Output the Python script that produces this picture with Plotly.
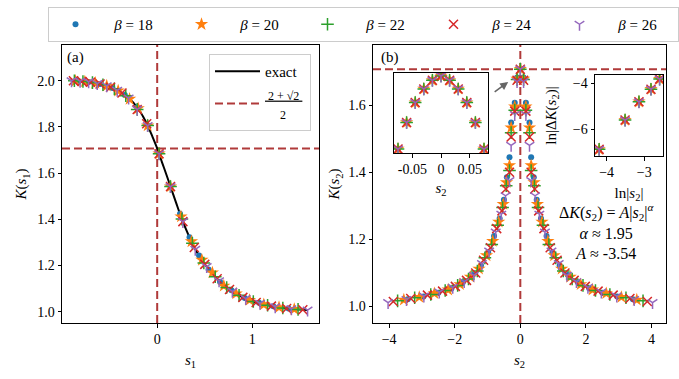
import plotly.graph_objects as go

# ---- panel (a): K(s1) ----
exact_s1 = [-0.90, -0.80, -0.70, -0.60, -0.50, -0.40, -0.30, -0.20, -0.15, -0.10, -0.05, 0.00, 0.05, 0.10,
            0.15, 0.20, 0.25, 0.30, 0.35, 0.40, 0.45, 0.50, 0.60, 0.70, 0.80, 0.90, 1.00, 1.10, 1.20, 1.30,
            1.40, 1.50, 1.58]
exact_K = [2.000, 1.998, 1.994, 1.986, 1.974, 1.955, 1.925, 1.880, 1.846, 1.806, 1.758, 1.707, 1.648, 1.590,
           1.530, 1.470, 1.412, 1.360, 1.313, 1.270, 1.236, 1.205, 1.155, 1.115, 1.085, 1.062, 1.045, 1.033,
           1.024, 1.017, 1.012, 1.009, 1.007]

s1_18 = [-0.84, -0.72, -0.60, -0.47, -0.34, -0.21, -0.10, 0.02, 0.14, 0.24, 0.34, 0.44, 0.54, 0.66, 0.78,
         0.92, 1.07, 1.22, 1.38]
K1_18 = [1.999, 1.995, 1.986, 1.969, 1.938, 1.885, 1.806, 1.684, 1.542, 1.424, 1.322, 1.243, 1.183, 1.130,
         1.093, 1.059, 1.039, 1.024, 1.014]
s1_20 = [-0.86, -0.76, -0.65, -0.53, -0.41, -0.29, -0.20, -0.10, 0.02, 0.14, 0.25, 0.36, 0.47, 0.58, 0.70,
         0.83, 0.97, 1.12, 1.28, 1.44]
K1_20 = [1.999, 1.996, 1.990, 1.978, 1.957, 1.921, 1.880, 1.806, 1.684, 1.542, 1.412, 1.304, 1.224, 1.169,
         1.112, 1.078, 1.050, 1.031, 1.019, 1.011]
s1_22 = [-0.87, -0.78, -0.68, -0.57, -0.45, -0.33, -0.21, -0.10, 0.02, 0.14, 0.26, 0.37, 0.49, 0.61, 0.73,
         0.86, 1.01, 1.16, 1.32, 1.48]
K1_22 = [2.000, 1.997, 1.992, 1.983, 1.965, 1.935, 1.876, 1.806, 1.684, 1.542, 1.401, 1.296, 1.211, 1.151,
         1.105, 1.071, 1.044, 1.028, 1.016, 1.010]
s1_24 = [-0.88, -0.79, -0.70, -0.60, -0.49, -0.37, -0.21, -0.11, 0.02, 0.14, 0.27, 0.39, 0.50, 0.63, 0.76,
         0.90, 1.04, 1.20, 1.36, 1.53]
K1_24 = [2.000, 1.997, 1.994, 1.986, 1.972, 1.947, 1.876, 1.814, 1.684, 1.542, 1.390, 1.278, 1.205, 1.143,
         1.096, 1.062, 1.040, 1.024, 1.014, 1.008]
s1_26 = [-0.90, -0.81, -0.72, -0.63, -0.53, -0.42, -0.30, -0.21, -0.10, 0.02, 0.14, 0.27, 0.40, 0.52, 0.65,
         0.79, 0.93, 1.08, 1.24, 1.41, 1.58]
K1_26 = [2.000, 1.998, 1.995, 1.988, 1.978, 1.959, 1.925, 1.876, 1.806, 1.684, 1.542, 1.390, 1.270, 1.195,
         1.134, 1.088, 1.057, 1.036, 1.021, 1.012, 1.007]

# ---- panel (b): K(s2) ----
s2_18 = [-3.43, -2.95, -2.50, -2.10, -1.75, -1.45, -1.20, -0.98, -0.80, -0.63, -0.50, -0.41, -0.33, -0.28, -0.17,
         -0.10, 0.00, 0.10, 0.17, 0.28, 0.33, 0.41, 0.50, 0.63, 0.80, 0.98, 1.20, 1.45, 1.75, 2.10, 2.50, 2.95, 3.43]
K2_18 = [1.022, 1.030, 1.041, 1.054, 1.072, 1.094, 1.122, 1.162, 1.210, 1.262, 1.318, 1.385, 1.445, 1.548, 1.607,
         1.682, 1.707, 1.682, 1.607, 1.548, 1.445, 1.385, 1.318, 1.262, 1.210, 1.162, 1.122, 1.094, 1.072, 1.054,
         1.041, 1.030, 1.022]
s2_20 = [-3.55, -3.08, -2.62, -2.20, -1.84, -1.52, -1.26, -1.03, -0.84, -0.66, -0.52, -0.42, -0.33, -0.28, -0.17,
         -0.10, 0.00, 0.10, 0.17, 0.28, 0.33, 0.42, 0.52, 0.66, 0.84, 1.03, 1.26, 1.52, 1.84, 2.20, 2.62, 3.08, 3.55]
K2_20 = [1.020, 1.028, 1.039, 1.050, 1.066, 1.088, 1.112, 1.152, 1.195, 1.252, 1.305, 1.370, 1.420, 1.533, 1.595,
         1.678, 1.707, 1.678, 1.595, 1.533, 1.420, 1.370, 1.305, 1.252, 1.195, 1.152, 1.112, 1.088, 1.066, 1.050,
         1.039, 1.028, 1.020]
s2_22 = [-3.74, -3.22, -2.73, -2.29, -1.91, -1.58, -1.31, -1.08, -0.87, -0.69, -0.54, -0.43, -0.33, -0.28, -0.17,
         -0.10, 0.00, 0.10, 0.17, 0.28, 0.33, 0.43, 0.54, 0.69, 0.87, 1.08, 1.31, 1.58, 1.91, 2.29, 2.73, 3.22, 3.74]
K2_22 = [1.017, 1.026, 1.036, 1.048, 1.063, 1.082, 1.106, 1.145, 1.185, 1.242, 1.295, 1.360, 1.405, 1.518, 1.585,
         1.676, 1.707, 1.676, 1.585, 1.518, 1.405, 1.360, 1.295, 1.242, 1.185, 1.145, 1.106, 1.082, 1.063, 1.048,
         1.036, 1.026, 1.017]
s2_24 = [-3.87, -3.34, -2.83, -2.37, -1.98, -1.64, -1.36, -1.12, -0.91, -0.72, -0.56, -0.44, -0.33, -0.28, -0.17,
         -0.10, 0.00, 0.10, 0.17, 0.28, 0.33, 0.44, 0.56, 0.72, 0.91, 1.12, 1.36, 1.64, 1.98, 2.37, 2.83, 3.34, 3.87]
K2_24 = [1.015, 1.024, 1.034, 1.046, 1.060, 1.078, 1.100, 1.138, 1.175, 1.232, 1.285, 1.350, 1.400, 1.505, 1.582,
         1.674, 1.707, 1.674, 1.582, 1.505, 1.400, 1.350, 1.285, 1.232, 1.175, 1.138, 1.100, 1.078, 1.060, 1.046,
         1.034, 1.024, 1.015]
s2_26 = [-4.03, -3.47, -2.94, -2.47, -2.06, -1.71, -1.42, -1.17, -0.95, -0.75, -0.58, -0.45, -0.33, -0.28, -0.17,
         -0.10, 0.00, 0.10, 0.17, 0.28, 0.33, 0.45, 0.58, 0.75, 0.95, 1.17, 1.42, 1.71, 2.06, 2.47, 2.94, 3.47, 4.03]
K2_26 = [1.012, 1.021, 1.031, 1.043, 1.057, 1.074, 1.093, 1.128, 1.165, 1.222, 1.275, 1.330, 1.375, 1.480, 1.572,
         1.670, 1.707, 1.670, 1.572, 1.480, 1.375, 1.330, 1.275, 1.222, 1.165, 1.128, 1.093, 1.074, 1.057, 1.043,
         1.031, 1.021, 1.012]

# inset: zoom near s2 = 0
inset_s2 = [-0.075, -0.060, -0.045, -0.030, -0.015, 0.0, 0.015, 0.030, 0.045, 0.060, 0.075]
inset_K = [1.6851, 1.6931, 1.6991, 1.7032, 1.7058, 1.7071, 1.7058, 1.7032, 1.6991, 1.6931, 1.6851]

# inset: log-log fit
ln_s2 = [-4.20, -3.51, -3.14, -2.82, -2.59]
ln_dK = [-6.89, -5.61, -4.81, -4.26, -3.82]

K_c = (2 + 2 ** 0.5) / 2

betas = [18, 20, 22, 24, 26]
s1_data = {18: (s1_18, K1_18), 20: (s1_20, K1_20), 22: (s1_22, K1_22), 24: (s1_24, K1_24), 26: (s1_26, K1_26)}
s2_data = {18: (s2_18, K2_18), 20: (s2_20, K2_20), 22: (s2_22, K2_22), 24: (s2_24, K2_24), 26: (s2_26, K2_26)}

markers = {
    18: dict(symbol='circle', size=6, color='#1f77b4'),
    20: dict(symbol='star', size=10, color='#ff7f0e'),
    22: dict(symbol='cross-thin-open', size=9, color='#2ca02c', line=dict(width=1.5, color='#2ca02c')),
    24: dict(symbol='x-thin-open', size=9, color='#d62728', line=dict(width=1.5, color='#d62728')),
    26: dict(symbol='y-down-open', size=8, color='#9467bd', line=dict(width=1.5, color='#9467bd')),
}

FONT = 'Liberation Serif, Times New Roman, serif'
DASH = '#b03a3a'
W, H = 679, 379


def px(x0, x1, y0, y1):
    # pixel box -> paper domains
    return [x0 / W, x1 / W], [1 - y1 / H, 1 - y0 / H]


dxa, dya = px(62, 319, 45, 323)
dxb, dyb = px(373, 666, 45, 323)
dx3, dy3 = px(394, 488, 73, 153)
dx4, dy4 = px(595, 663, 75, 156)

fig = go.Figure()

fig.add_trace(go.Scatter(x=exact_s1, y=exact_K, mode='lines', line=dict(color='black', width=2, shape='spline'),
                         name='exact\u00a0\u00a0', legend='legend2', legendrank=1, xaxis='x', yaxis='y'))

for b in betas:
    m = markers[b]
    name = '<i>β</i> = %d' % b
    s, k = s1_data[b]
    fig.add_trace(go.Scatter(x=s, y=k, mode='markers', marker=m, name='\u00a0\u00a0\u00a0' + name,
                             legendgroup=str(b), xaxis='x', yaxis='y'))
    s, k = s2_data[b]
    fig.add_trace(go.Scatter(x=s, y=k, mode='markers', marker=m, name=name, legendgroup=str(b),
                             showlegend=False, xaxis='x2', yaxis='y2'))
    fig.add_trace(go.Scatter(x=inset_s2, y=inset_K, mode='markers', marker=m, name=name, legendgroup=str(b),
                             showlegend=False, xaxis='x3', yaxis='y3'))
    fig.add_trace(go.Scatter(x=ln_s2, y=ln_dK, mode='markers', marker=m, name=name, legendgroup=str(b),
                             showlegend=False, xaxis='x4', yaxis='y4'))

dash_line = dict(color=DASH, width=2, dash='8px,4px')
frac = ("<span style='font-size:12px'><u>\u00a02 + √2\u00a0</u><br>\u00a0\u00a0\u00a0\u00a0\u00a02</span>")
for xr, yr in [('x', 'y'), ('x2', 'y2'), ('x3', 'y3')]:
    fig.add_shape(type='line', xref=xr, yref=yr + ' domain', x0=0, x1=0, y0=0, y1=1, line=dash_line,
                  layer='below')
    fig.add_shape(type='line', xref=xr + ' domain', yref=yr, x0=0, x1=1, y0=K_c, y1=K_c, line=dash_line,
                  layer='below', showlegend=(xr == 'x'), legend='legend2', name=frac, legendrank=2)

axis_common = dict(showline=True, linecolor='black', linewidth=1, mirror=True, ticks='outside', ticklen=3.5,
                   tickwidth=0.8, tickcolor='black', showgrid=False, zeroline=False,
                   tickfont=dict(family=FONT, size=14, color='black'))


def title(t, standoff):
    return dict(text=t, font=dict(family=FONT, size=15, color='black'), standoff=standoff)


fig.update_layout(
    width=W, height=H, margin=dict(l=0, r=0, t=0, b=0),
    paper_bgcolor='white', plot_bgcolor='white',
    font=dict(family=FONT, size=14, color='black'),
    xaxis=dict(domain=dxa, range=[-1.0, 1.70], tickvals=[0, 1], anchor='y',
               title=title('<i>s</i><sub>1</sub>', 8), **axis_common),
    yaxis=dict(domain=dya, range=[0.951, 2.155], tickvals=[1.0, 1.2, 1.4, 1.6, 1.8, 2.0], tickformat='.1f',
               anchor='x', title=title('<i>K</i>(<i>s</i><sub>1</sub>)', 6), **axis_common),
    xaxis2=dict(domain=dxb, range=[-4.49, 4.44], tickvals=[-4, -2, 0, 2, 4], anchor='y2',
                title=title('<i>s</i><sub>2</sub>', 8), **axis_common),
    yaxis2=dict(domain=dyb, range=[0.951, 1.779], tickvals=[1.0, 1.2, 1.4, 1.6], tickformat='.1f',
                anchor='x2', title=title('<i>K</i>(<i>s</i><sub>2</sub>)', 4), **axis_common),
    xaxis3=dict(domain=dx3, range=[-0.082, 0.082], tickvals=[-0.05, 0, 0.05], ticktext=['-0.05', '0', '0.05'],
                anchor='y3', title=title('<i>s</i><sub>2</sub>', 6), **axis_common),
    yaxis3=dict(domain=dy3, range=[1.6839, 1.7080], anchor='x3', showticklabels=False,
                **{**axis_common, 'ticks': ''}),
    xaxis4=dict(domain=dx4, range=[-4.31, -2.50], tickvals=[-4, -3], anchor='y4',
                title=title('ln|<i>s</i><sub>2</sub>|', 8), **axis_common),
    yaxis4=dict(domain=dy4, range=[-7.18, -3.64], tickvals=[-6, -4], anchor='x4',
                title=title('ln|Δ<i>K</i>(<i>s</i><sub>2</sub>)|', 12), **axis_common),
    legend=dict(orientation='h', x=55 / W, y=1 - 7 / H, xanchor='left', yanchor='top',
                bordercolor='#cccccc', borderwidth=1, bgcolor='white', itemwidth=45,
                font=dict(family=FONT, size=15, color='black'), entrywidth=66, entrywidthmode='pixels'),
    legend2=dict(x=209 / W, y=1 - 54 / H, xanchor='left', yanchor='top', bordercolor='#cccccc',
                 borderwidth=1, bgcolor='white', itemwidth=45,
                 font=dict(family=FONT, size=15, color='black')),
    showlegend=True,
)

ann_font = dict(family=FONT, size=15, color='black')
fig.add_annotation(text='(a)', x=75 / W, y=1 - 57 / H, xref='paper', yref='paper', showarrow=False,
                   xanchor='center', yanchor='middle', font=ann_font)
fig.add_annotation(text='(b)', x=390 / W, y=1 - 57 / H, xref='paper', yref='paper', showarrow=False,
                   xanchor='center', yanchor='middle', font=ann_font)
fig.add_annotation(text='Δ<i>K</i>(<i>s</i><sub>2</sub>) = <i>A</i>|<i>s</i><sub>2</sub>|<sup><i>α</i></sup>'
                        '<br><i>α</i> ≈ 1.95<br><i>A</i> ≈ -3.54',
                   x=607 / W, y=1 - 231 / H, xref='paper', yref='paper', showarrow=False, align='center',
                   xanchor='center', yanchor='middle', font=dict(family=FONT, size=16, color='black'))
fig.add_annotation(text='', x=-0.37, y=1.669, xref='x2', yref='y2', ax=-15, ay=11, showarrow=True,
                   arrowhead=2, arrowsize=1, arrowwidth=1.6, arrowcolor='#666666')

fig.write_html('out.html', post_script="document.body.style.margin='0px';",
               config={'displayModeBar': False})
